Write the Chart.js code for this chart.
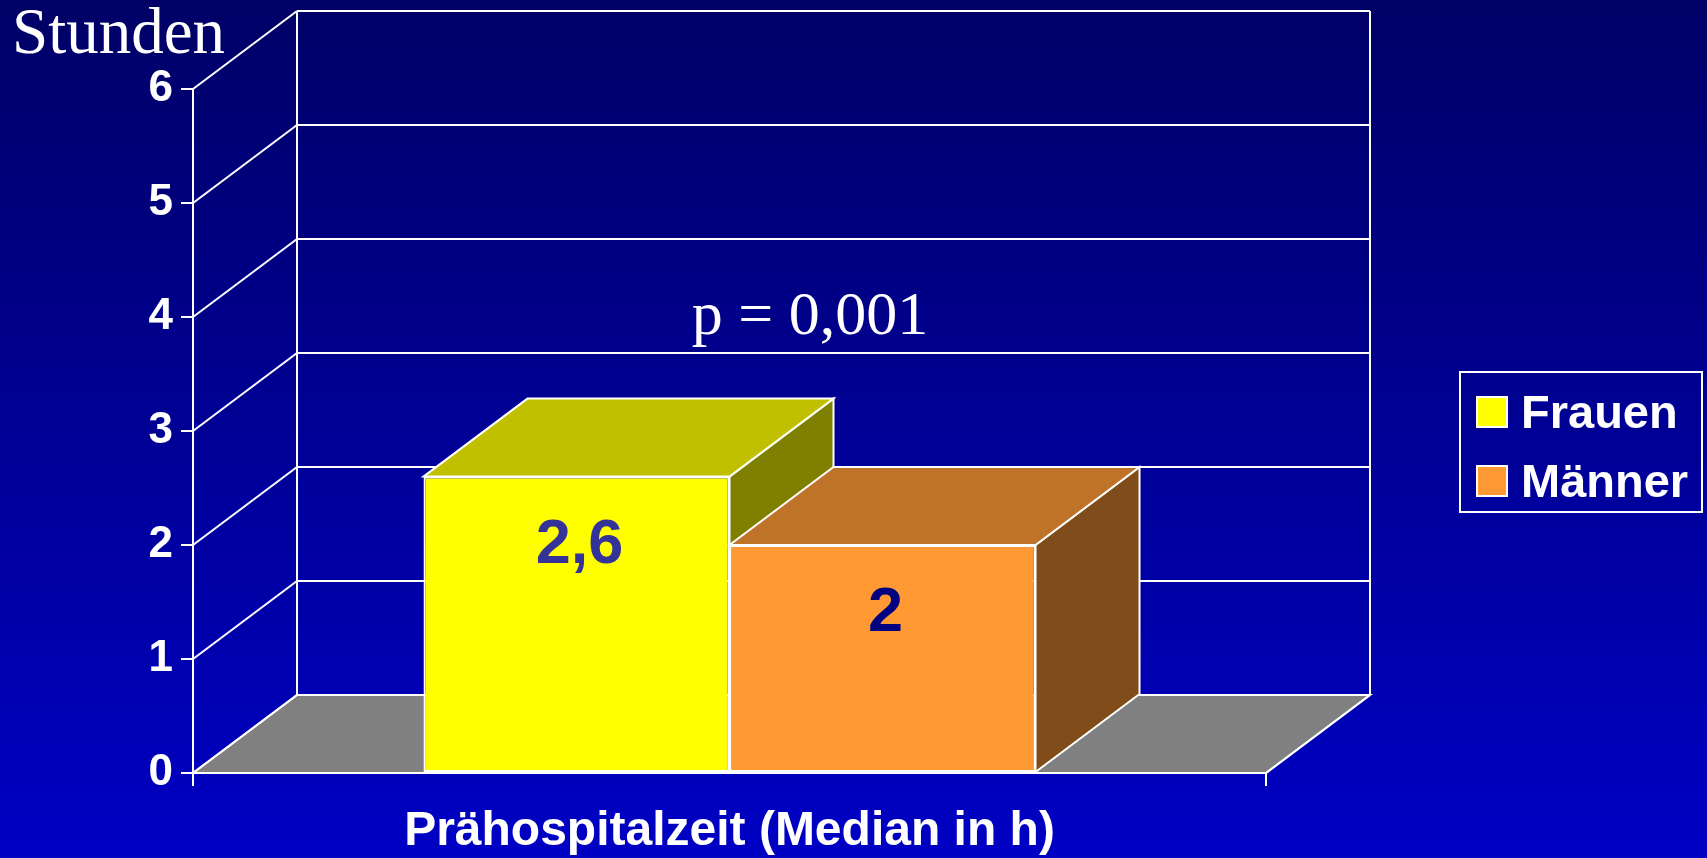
<!DOCTYPE html>
<html lang="de">
<head>
<meta charset="utf-8">
<title>Prähospitalzeit</title>
<script src="https://cdn.jsdelivr.net/npm/chart.js@4.4.1/dist/chart.umd.min.js"></script>
<style>
    html, body { margin: 0; padding: 0; }
    body {
        width: 1707px;
        height: 858px;
        overflow: hidden;
        background: linear-gradient(to bottom, #000066 0%, #0000c4 100%);
    }
    #wrap { position: relative; width: 1707px; height: 858px; }
</style>
</head>
<body>
<div id="wrap"><canvas id="chart"></canvas></div>
<script>
var categories = ['Prähospitalzeit (Median in h)'];
var seriesNames = ['Frauen', 'Männer'];
var frauenValues = [2.6];
var maennerValues = [2];
var valueLabels = [['2,6'], ['2']];
var yTicks = [0, 1, 2, 3, 4, 5, 6];
var yTitle = 'Stunden';
var pNote = 'p = 0,001';

var frontColors = ['#ffff00', '#ff9933'];
var topColors = ['#c0c000', '#bf7328'];
var sideColors = ['#808000', '#804d1a'];
var labelColors = ['#333399', '#000080'];

var SANS = "'Liberation Sans', Arial, sans-serif";
var SERIF = "'Liberation Serif', 'Times New Roman', serif";

// depth of the fake 3D box
var DX = 104;
var DY = 78;

function seg(ctx, x1, y1, x2, y2) {
    ctx.beginPath();
    ctx.moveTo(x1, y1);
    ctx.lineTo(x2, y2);
    ctx.stroke();
}

function poly(ctx, pts) {
    ctx.beginPath();
    ctx.moveTo(pts[0][0], pts[0][1]);
    for (var i = 1; i < pts.length; i++) {
        ctx.lineTo(pts[i][0], pts[i][1]);
    }
    ctx.closePath();
    ctx.fill();
    ctx.stroke();
}

var box3d = {
    id: 'box3d',
    beforeDatasetsDraw: function (chart) {
        var ctx = chart.ctx;
        var area = chart.chartArea;
        var ys = chart.scales.y;
        var base = ys.getPixelForValue(0);
        var top = ys.getPixelForValue(yTicks[yTicks.length - 1]);

        ctx.save();
        ctx.strokeStyle = '#ffffff';
        ctx.lineWidth = 2;

        // floor
        ctx.fillStyle = '#808080';
        poly(ctx, [[area.left, base], [area.right, base], [area.right + DX, base - DY], [area.left + DX, base - DY]]);

        // side wall diagonals and back wall grid
        yTicks.forEach(function (v) {
            var py = ys.getPixelForValue(v);
            seg(ctx, area.left, py, area.left + DX, py - DY);
            seg(ctx, area.left + DX, py - DY, area.right + DX, py - DY);
        });
        seg(ctx, area.left + DX, top - DY, area.left + DX, base - DY);
        seg(ctx, area.right + DX, top - DY, area.right + DX, base - DY);
        seg(ctx, area.right, base, area.right + DX, base - DY);

        // side and top faces, left to right
        chart.data.datasets.forEach(function (ds, i) {
            chart.getDatasetMeta(i).data.forEach(function (bar) {
                var p = bar.getProps(['x', 'y', 'base', 'width'], true);
                var l = p.x - p.width / 2;
                var r = p.x + p.width / 2;
                ctx.fillStyle = sideColors[i];
                poly(ctx, [[r, p.y], [r + DX, p.y - DY], [r + DX, p.base - DY], [r, p.base]]);
                ctx.fillStyle = topColors[i];
                poly(ctx, [[l, p.y], [r, p.y], [r + DX, p.y - DY], [l + DX, p.y - DY]]);
            });
        });
        ctx.restore();
    },
    afterDatasetsDraw: function (chart) {
        var ctx = chart.ctx;
        var area = chart.chartArea;
        ctx.save();

        // value labels on the front faces
        ctx.font = 'bold 63px ' + SANS;
        ctx.textAlign = 'center';
        ctx.textBaseline = 'alphabetic';
        chart.data.datasets.forEach(function (ds, i) {
            chart.getDatasetMeta(i).data.forEach(function (bar, j) {
                var p = bar.getProps(['x', 'y'], true);
                ctx.fillStyle = labelColors[i];
                ctx.fillText(valueLabels[i][j], p.x + 3, p.y + 86);
            });
        });

        // p value note
        ctx.fillStyle = '#ffffff';
        ctx.font = '62px ' + SERIF;
        ctx.fillText(pNote, area.left + 617, 334);

        // axis unit top left
        ctx.textAlign = 'left';
        ctx.font = '65px ' + SERIF;
        ctx.fillText(yTitle, 12, 53);

        // legend box
        ctx.strokeStyle = '#ffffff';
        ctx.lineWidth = 2;
        ctx.strokeRect(1460, 372, 242, 140);
        ctx.font = 'bold 47px ' + SANS;
        chart.data.datasets.forEach(function (ds, i) {
            var rowY = 397 + i * 69;
            ctx.fillStyle = frontColors[i];
            ctx.fillRect(1477, rowY, 30, 30);
            ctx.strokeRect(1477, rowY, 30, 30);
            ctx.fillStyle = '#ffffff';
            ctx.fillText(ds.label, 1521, rowY + 31);
        });
        ctx.restore();
    }
};

new Chart(document.getElementById('chart'), {
    type: 'bar',
    data: {
        labels: categories,
        datasets: [{
            label: seriesNames[0],
            data: frauenValues,
            backgroundColor: frontColors[0],
            borderColor: '#ffffff',
            borderWidth: 2,
            borderSkipped: false
        }, {
            label: seriesNames[1],
            data: maennerValues,
            backgroundColor: frontColors[1],
            borderColor: '#ffffff',
            borderWidth: 2,
            borderSkipped: false
        }]
    },
    options: {
        responsive: true,
        maintainAspectRatio: false,
        animation: false,
        events: [],
        categoryPercentage: 0.5704,
        barPercentage: 1,
        layout: {
            padding: { left: 0, top: 89, right: 441, bottom: 0 }
        },
        plugins: {
            legend: { display: false },
            tooltip: { enabled: false }
        },
        scales: {
            x: {
                afterFit: function (scale) { scale.height = 85; },
                grid: {
                    drawOnChartArea: false,
                    color: '#ffffff',
                    lineWidth: 2,
                    tickLength: 13,
                    offset: true
                },
                border: { display: true, color: '#ffffff', width: 2 },
                ticks: {
                    color: '#ffffff',
                    maxRotation: 0,
                    padding: 17,
                    font: { family: SANS, size: 48, weight: 'bold' }
                }
            },
            y: {
                min: 0,
                max: 6,
                afterFit: function (scale) { scale.width = 193; },
                afterBuildTicks: function (scale) {
                    scale.ticks = yTicks.map(function (v) { return { value: v }; });
                },
                grid: {
                    drawOnChartArea: false,
                    color: '#ffffff',
                    lineWidth: 2,
                    tickLength: 12
                },
                border: { display: true, color: '#ffffff', width: 2 },
                ticks: {
                    color: '#ffffff',
                    padding: 8,
                    font: { family: SANS, size: 44, weight: 'bold' }
                }
            }
        }
    },
    plugins: [box3d]
});
</script>
</body>
</html>
